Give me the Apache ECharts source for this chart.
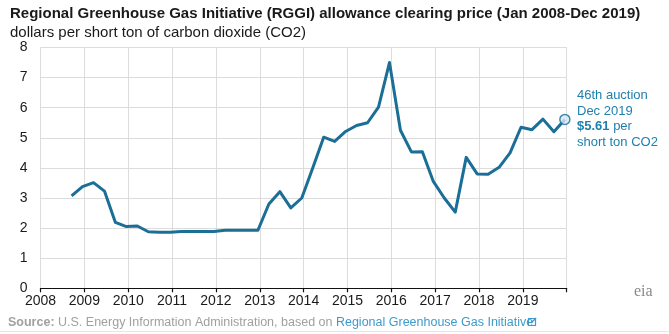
<!DOCTYPE html>
<html><head><meta charset="utf-8">
<script src="https://cdn.jsdelivr.net/npm/echarts@6/dist/echarts.min.js"></script>
<style>html,body{margin:0;padding:0;background:#fff}#c{width:669px;height:334px}</style>
</head><body><div id="c"></div>
<script>
// Auction months (plotted mid-month) and clearing prices, $/short ton CO2
const auctionMonths = ['2008-09','2008-12','2009-03','2009-06','2009-09','2009-12','2010-03','2010-06','2010-09','2010-12',
 '2011-03','2011-06','2011-09','2011-12','2012-03','2012-06','2012-09','2012-12','2013-03','2013-06',
 '2013-09','2013-12','2014-03','2014-06','2014-09','2014-12','2015-03','2015-06','2015-09','2015-12',
 '2016-03','2016-06','2016-09','2016-12','2017-03','2017-06','2017-09','2017-12','2018-03','2018-06',
 '2018-09','2018-12','2019-03','2019-06','2019-09','2019-12'];
const prices = [3.07,3.38,3.51,3.23,2.19,2.05,2.07,1.88,1.86,1.86,
 1.89,1.89,1.89,1.89,1.93,1.93,1.93,1.93,2.80,3.21,
 2.67,3.00,4.00,5.02,4.88,5.21,5.41,5.50,6.02,7.50,
 5.25,4.53,4.54,3.55,3.00,2.53,4.35,3.80,3.79,4.02,
 4.50,5.35,5.27,5.62,5.20,5.61];
const yearTicks = ['2008','2009','2010','2011','2012','2013','2014','2015','2016','2017','2018','2019'];
const yTicks = [0,1,2,3,4,5,6,7,8];
const annotationLines = ['46th auction','Dec 2019','$5.61','short ton CO2'];

function toYear(m){const [y,mo]=m.split('-').map(Number);return y+(mo-0.5)/12;}
const lineData = auctionMonths.map((m,i)=>[toYear(m),prices[i]]);
const last = lineData[lineData.length-1];

const chart = echarts.init(document.getElementById('c'),null,{renderer:'canvas'});
const FONT = 'Liberation Sans, Arial, sans-serif';
chart.setOption({
  animation:false,
  textStyle:{fontFamily:FONT},
  grid:{left:40.5,right:102.3,top:47.5,bottom:45.7,containLabel:false},
  xAxis:{type:'value',min:2008,max:2020,interval:1,
    axisLine:{show:true,lineStyle:{color:'#111',width:1.2}},
    axisTick:{show:true,length:4,lineStyle:{color:'#111',width:1.2}},
    axisLabel:{color:'#1a1a1a',fontSize:14,margin:6,fontFamily:FONT,
      formatter:v=>{const s=String(Math.round(v));return yearTicks.includes(s)?s:'';}},
    splitLine:{show:true,lineStyle:{color:'#dcdcdc',width:1}}},
  yAxis:{type:'value',min:yTicks[0],max:yTicks[yTicks.length-1],interval:1,
    axisLine:{show:false},axisTick:{show:false},
    axisLabel:{color:'#1a1a1a',fontSize:14,margin:13,fontFamily:FONT},
    splitLine:{show:true,lineStyle:{color:'#dcdcdc',width:1}}},
  series:[
    {type:'line',data:lineData,showSymbol:false,symbol:'none',
     lineStyle:{color:'#1b6e96',width:3,join:'round'},z:3},
    {type:'scatter',data:[last],symbol:'circle',symbolSize:10,
     itemStyle:{color:'#d3e9f5',borderColor:'#1b6e96',borderWidth:1.5},z:4}
  ],
  graphic:[
    {type:'text',left:10,top:6,style:{text:'Regional Greenhouse Gas Initiative (RGGI) allowance clearing price (Jan 2008-Dec 2019)',
      font:'bold 15px '+FONT,fill:'#1a1a1a'}},
    {type:'text',left:10,top:25,style:{text:'dollars per short ton of carbon dioxide (CO2)',
      font:'15px '+FONT,fill:'#1a1a1a'}},
    {type:'text',left:577,top:88,style:{text:annotationLines[0]+'\n'+annotationLines[1],font:'13px '+FONT,fill:'#1f80ad',lineHeight:15.5}},
    {type:'text',left:577,top:119,style:{rich:{b:{font:'bold 13px '+FONT,fill:'#1f80ad'},n:{font:'13px '+FONT,fill:'#1f80ad'}},
      text:'{b|'+annotationLines[2]+'}{n| per}\n{n|'+annotationLines[3]+'}',lineHeight:15.5}},
    {type:'text',left:8,top:316,style:{rich:{s:{font:'bold 12.5px '+FONT,fill:'#a0a0a0'},g:{font:'12.5px '+FONT,fill:'#a0a0a0'},l:{font:'12.5px '+FONT,fill:'#3d9bcb'}},
      text:'{s|Source:}{g| U.S. Energy Information Administration, based on }{l|Regional Greenhouse Gas Initiative}'}},
    {type:'rect',shape:{x:528.5,y:318.5,width:7,height:7},style:{fill:'none',stroke:'#3d9bcb',lineWidth:1.2}},
    {type:'line',shape:{x1:531,y1:323,x2:536,y2:318},style:{stroke:'#3d9bcb',lineWidth:1.5}},
    {type:'text',left:634,top:284,style:{text:'eia',font:'16px serif',fill:'#8a8a8a'}},
    {type:'rect',shape:{x:0,y:331,width:669,height:1},style:{fill:'#e6e6e6'}}
  ]
});
</script></body></html>
